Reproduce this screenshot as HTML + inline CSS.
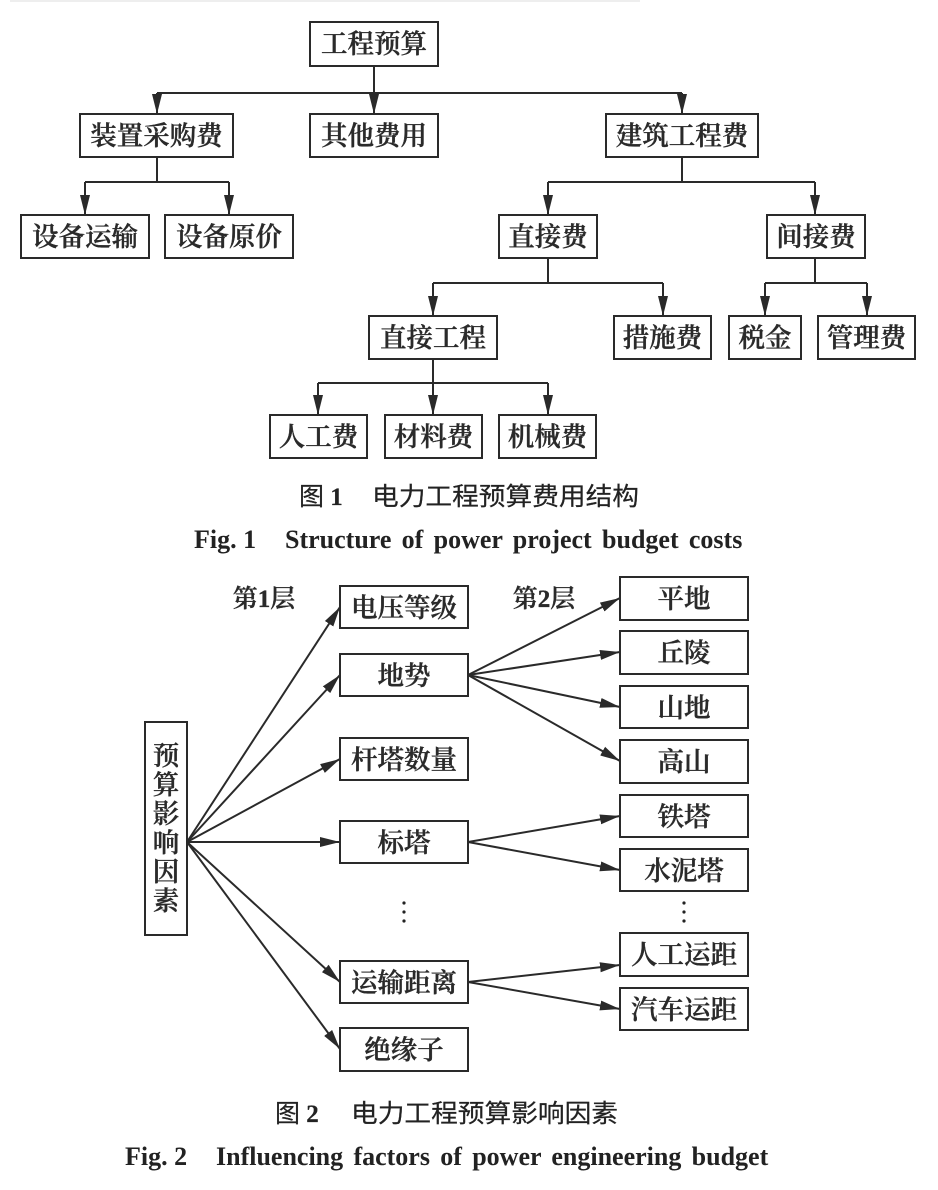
<!DOCTYPE html>
<html><head><meta charset="utf-8">
<style>
html,body{margin:0;padding:0;background:#fff}
svg{display:block}
.b{fill:#fff;stroke:#2a2a2a;stroke-width:2}
.l{fill:none;stroke:#2a2a2a;stroke-width:2}
.t{font-family:"Liberation Serif","Noto Serif CJK SC",serif;font-size:26.5px;font-weight:600;fill:#2a2a2a;stroke:#2a2a2a;stroke-width:.35px;text-anchor:middle}
.c{font-family:"Liberation Serif","Noto Sans CJK SC",sans-serif;font-size:25px;font-weight:400;fill:#222;stroke:#222;stroke-width:.2px}
.e{font-family:"Liberation Serif",serif;font-size:26px;font-weight:700;fill:#222;word-spacing:3.800px}
.f{font-family:"Liberation Serif",serif;font-size:26px;font-weight:700;fill:#222}
</style></head><body>
<svg width="938" height="1190" viewBox="0 0 938 1190" xmlns="http://www.w3.org/2000/svg">
<defs>
<marker id="a" markerUnits="userSpaceOnUse" markerWidth="22" markerHeight="14" refX="20" refY="6" orient="auto">
<polygon points="0,1 20,6 0,11" fill="#2a2a2a"/>
</marker>
</defs>
<rect x="0" y="0" width="938" height="1190" fill="#fff"/>
<rect x="10" y="0" width="630" height="2" fill="#eeeeee"/>

<!-- Fig 1 connectors -->
<path class="l" d="M374 66V93"/>
<path class="l" d="M157 93H682"/>
<path class="l" d="M157 93V114" marker-end="url(#a)"/>
<path class="l" d="M374 93V114" marker-end="url(#a)"/>
<path class="l" d="M682 93V114" marker-end="url(#a)"/>
<path class="l" d="M157 157V182M85 182H229"/>
<path class="l" d="M85 182V215" marker-end="url(#a)"/>
<path class="l" d="M229 182V215" marker-end="url(#a)"/>
<path class="l" d="M682 157V182M548 182H815"/>
<path class="l" d="M548 182V215" marker-end="url(#a)"/>
<path class="l" d="M815 182V215" marker-end="url(#a)"/>
<path class="l" d="M548 258V283M433 283H663"/>
<path class="l" d="M433 283V316" marker-end="url(#a)"/>
<path class="l" d="M663 283V316" marker-end="url(#a)"/>
<path class="l" d="M815 258V283M765 283H867"/>
<path class="l" d="M765 283V316" marker-end="url(#a)"/>
<path class="l" d="M867 283V316" marker-end="url(#a)"/>
<path class="l" d="M433 359V383M318 383H548"/>
<path class="l" d="M318 383V415" marker-end="url(#a)"/>
<path class="l" d="M433 383V415" marker-end="url(#a)"/>
<path class="l" d="M548 383V415" marker-end="url(#a)"/>

<!-- Fig 1 boxes -->
<rect class="b" x="310" y="22" width="128" height="44"/><text class="t" x="374" y="53">工程预算</text>
<rect class="b" x="80" y="114" width="153" height="43"/><text class="t" x="156.500" y="145">装置采购费</text>
<rect class="b" x="310" y="114" width="128" height="43"/><text class="t" x="374" y="145">其他费用</text>
<rect class="b" x="606" y="114" width="152" height="43"/><text class="t" x="682" y="145">建筑工程费</text>
<rect class="b" x="21" y="215" width="128" height="43"/><text class="t" x="85" y="246">设备运输</text>
<rect class="b" x="165" y="215" width="128" height="43"/><text class="t" x="229" y="246">设备原价</text>
<rect class="b" x="499" y="215" width="98" height="43"/><text class="t" x="548" y="246">直接费</text>
<rect class="b" x="767" y="215" width="98" height="43"/><text class="t" x="816" y="246">间接费</text>
<rect class="b" x="369" y="316" width="128" height="43"/><text class="t" x="433" y="347">直接工程</text>
<rect class="b" x="614" y="316" width="97" height="43"/><text class="t" x="662.500" y="347">措施费</text>
<rect class="b" x="729" y="316" width="72" height="43"/><text class="t" x="765" y="347">税金</text>
<rect class="b" x="818" y="316" width="97" height="43"/><text class="t" x="866.500" y="347">管理费</text>
<rect class="b" x="270" y="415" width="97" height="43"/><text class="t" x="318.500" y="446">人工费</text>
<rect class="b" x="385" y="415" width="97" height="43"/><text class="t" x="433.500" y="446">材料费</text>
<rect class="b" x="499" y="415" width="97" height="43"/><text class="t" x="547.500" y="446">机械费</text>

<!-- Fig 1 captions -->
<text class="c" x="299" y="505">图 <tspan font-weight="700">1</tspan></text>
<text class="c" x="372" y="505" textLength="267" lengthAdjust="spacingAndGlyphs" font-size="26">电力工程预算费用结构</text>
<text class="f" x="194" y="548">Fig. 1</text>
<text class="e" x="285" y="548">Structure of power project budget costs</text>

<!-- Fig 2 connectors -->
<path class="l" d="M187 842L340 607" marker-end="url(#a)"/>
<path class="l" d="M187 842L340 675" marker-end="url(#a)"/>
<path class="l" d="M187 842L340 759" marker-end="url(#a)"/>
<path class="l" d="M187 842H340" marker-end="url(#a)"/>
<path class="l" d="M187 842L340 982" marker-end="url(#a)"/>
<path class="l" d="M187 842L340 1049" marker-end="url(#a)"/>
<path class="l" d="M468 675L620 598" marker-end="url(#a)"/>
<path class="l" d="M468 675L620 652" marker-end="url(#a)"/>
<path class="l" d="M468 675L620 707" marker-end="url(#a)"/>
<path class="l" d="M468 675L620 761" marker-end="url(#a)"/>
<path class="l" d="M468 842L620 816" marker-end="url(#a)"/>
<path class="l" d="M468 842L620 870" marker-end="url(#a)"/>
<path class="l" d="M468 982L620 965" marker-end="url(#a)"/>
<path class="l" d="M468 982L620 1009" marker-end="url(#a)"/>

<!-- Fig 2 boxes -->
<rect class="b" x="145" y="722" width="42" height="213"/>
<text class="t" x="166" y="765">预</text>
<text class="t" x="166" y="794">算</text>
<text class="t" x="166" y="823">影</text>
<text class="t" x="166" y="852">响</text>
<text class="t" x="166" y="881">因</text>
<text class="t" x="166" y="910">素</text>
<rect class="b" x="340" y="586" width="128" height="42"/><text class="t" x="404" y="617">电压等级</text>
<rect class="b" x="340" y="654" width="128" height="42"/><text class="t" x="404" y="685">地势</text>
<rect class="b" x="340" y="738" width="128" height="42"/><text class="t" x="404" y="769">杆塔数量</text>
<rect class="b" x="340" y="821" width="128" height="42"/><text class="t" x="404" y="852">标塔</text>
<rect class="b" x="340" y="961" width="128" height="42"/><text class="t" x="404" y="992">运输距离</text>
<rect class="b" x="340" y="1028" width="128" height="43"/><text class="t" x="404" y="1059">绝缘子</text>
<rect class="b" x="620" y="577" width="128" height="43"/><text class="t" x="684" y="608">平地</text>
<rect class="b" x="620" y="631" width="128" height="43"/><text class="t" x="684" y="662">丘陵</text>
<rect class="b" x="620" y="686" width="128" height="42"/><text class="t" x="684" y="717">山地</text>
<rect class="b" x="620" y="740" width="128" height="43"/><text class="t" x="684" y="771">高山</text>
<rect class="b" x="620" y="795" width="128" height="42"/><text class="t" x="684" y="826">铁塔</text>
<rect class="b" x="620" y="849" width="128" height="42"/><text class="t" x="684" y="880">水泥塔</text>
<rect class="b" x="620" y="933" width="128" height="43"/><text class="t" x="684" y="964">人工运距</text>
<rect class="b" x="620" y="988" width="128" height="42"/><text class="t" x="684" y="1019">汽车运距</text>

<text class="t" x="264" y="607" style="font-size:25px">第1层</text>
<text class="t" x="544" y="607" style="font-size:25px">第2层</text>

<g fill="#222">
<circle cx="404" cy="903" r="1.600"/><circle cx="404" cy="912" r="1.600"/><circle cx="404" cy="921" r="1.600"/>
<circle cx="684" cy="903" r="1.600"/><circle cx="684" cy="912" r="1.600"/><circle cx="684" cy="921" r="1.600"/>
</g>

<!-- Fig 2 captions -->
<text class="c" x="275" y="1122">图 <tspan font-weight="700">2</tspan></text>
<text class="c" x="351" y="1122" textLength="267" lengthAdjust="spacingAndGlyphs" font-size="26">电力工程预算影响因素</text>
<text class="f" x="125" y="1165">Fig. 2</text>
<text class="e" x="216" y="1165">Influencing factors of power engineering budget</text>
</svg>
</body></html>
